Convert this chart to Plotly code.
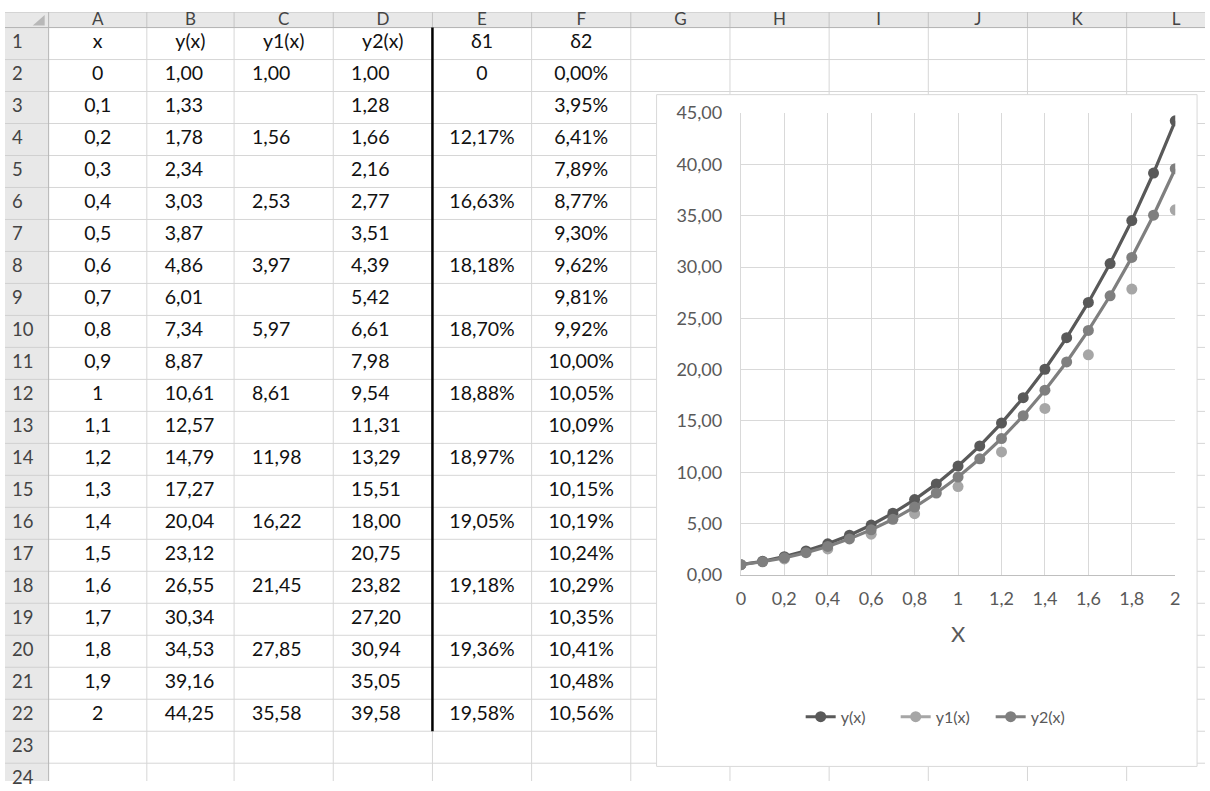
import plotly.graph_objects as go

# ---------------- data ----------------
x_vals = [0, 0.1, 0.2, 0.3, 0.4, 0.5, 0.6, 0.7, 0.8, 0.9, 1, 1.1, 1.2, 1.3, 1.4, 1.5, 1.6, 1.7, 1.8, 1.9, 2]
y_vals = [1.00, 1.33, 1.78, 2.34, 3.03, 3.87, 4.86, 6.01, 7.34, 8.87, 10.61, 12.57, 14.79, 17.27, 20.04,
          23.12, 26.55, 30.34, 34.53, 39.16, 44.25]
y1_vals = [1.00, None, 1.56, None, 2.53, None, 3.97, None, 5.97, None, 8.61, None, 11.98, None, 16.22,
           None, 21.45, None, 27.85, None, 35.58]
y2_vals = [1.00, 1.28, 1.66, 2.16, 2.77, 3.51, 4.39, 5.42, 6.61, 7.98, 9.54, 11.31, 13.29, 15.51, 18.00,
           20.75, 23.82, 27.20, 30.94, 35.05, 39.58]
delta1_text = ["0", "", "12,17%", "", "16,63%", "", "18,18%", "", "18,70%", "", "18,88%", "", "18,97%", "",
               "19,05%", "", "19,18%", "", "19,36%", "", "19,58%"]
delta2_text = ["0,00%", "3,95%", "6,41%", "7,89%", "8,77%", "9,30%", "9,62%", "9,81%", "9,92%", "10,00%",
               "10,05%", "10,09%", "10,12%", "10,15%", "10,19%", "10,24%", "10,29%", "10,35%", "10,41%",
               "10,48%", "10,56%"]
column_letters = ["A", "B", "C", "D", "E", "F", "G", "H", "I", "J", "K", "L"]
header_labels = ["x", "y(x)", "y1(x)", "y2(x)", "δ1", "δ2"]
series_names = ["y(x)", "y1(x)", "y2(x)"]
row_numbers = list(range(1, 25))

# ---------------- sheet geometry / styles ----------------
W, H = 1210, 791
ROWHDR_W = 44
COL_W = [99, 88, 100, 100, 100, 100, 100, 100, 100, 100, 100, 100]
HDR_TOP, HDR_BOT = 0, 16
ROW_H = 32.9
HDR_TEXT_Y = 8.5
ROWNUM_X = 7
LEFT_PAD = 18
FONT = "Lato"
CELL_SIZE = 19.5
HDR_FILL = "#e8e8e8"
GRID = "#d6d6d6"
HDR_LINE = "#c4c4c4"

col_edges = [ROWHDR_W]
for w in COL_W:
    col_edges.append(col_edges[-1] + w)


def col_center(i):
    return (col_edges[i] + col_edges[i + 1]) / 2


def row_center(n):
    return HDR_BOT + (n - 0.5) * ROW_H


def fmt_x(v):
    return f"{v:g}".replace(".", ",")


def fmt_2(v):
    return "" if v is None else f"{v:.2f}".replace(".", ",")


# chart box and plot area (pixels)
BOX = dict(x0=657, x1=1202, y0=85, y1=776)
PLOT_X = (742, 1180)
PLOT_Y = (104, 579)
LEGEND_CX, LEGEND_CY = 946, 725
CH_COLORS = ["#595959", "#a6a6a6", "#7f7f7f"]
AX_TEXT = "#595959"

fig = go.Figure()


def text_trace(xs, ys, texts, pos="middle center", color="#111111", size=CELL_SIZE):
    fig.add_trace(go.Scatter(
        x=xs, y=ys, text=texts, mode="text", textposition=pos,
        textfont=dict(family=FONT, size=size, color=color),
        showlegend=False, hoverinfo="skip", cliponaxis=False, xaxis="x", yaxis="y"))


# column letters
text_trace([col_center(i) for i in range(len(column_letters))], [HDR_TEXT_Y] * len(column_letters),
           column_letters, color="#444444", size=17)
# row numbers
text_trace([ROWNUM_X] * len(row_numbers), [row_center(n) for n in row_numbers],
           [str(n) for n in row_numbers], pos="middle right", color="#444444", size=18.5)
# header row 1
text_trace([col_center(i) for i in range(len(header_labels))], [row_center(1)] * len(header_labels),
           header_labels)
data_rows = [row_center(2 + k) for k in range(len(x_vals))]
# column A (centered)
text_trace([col_center(0)] * len(x_vals), data_rows, [fmt_x(v) for v in x_vals])
# columns B, C, D (left aligned with indent)
for ci, vals in zip([1, 2, 3], [y_vals, y1_vals, y2_vals]):
    text_trace([col_edges[ci] + LEFT_PAD] * len(vals), data_rows, [fmt_2(v) for v in vals],
               pos="middle right")
# columns E, F (centered)
text_trace([col_center(4)] * len(delta1_text), data_rows, delta1_text)
text_trace([col_center(5)] * len(delta2_text), data_rows, delta2_text)

# chart series
for name, vals, col in zip(series_names, [y_vals, y1_vals, y2_vals], CH_COLORS):
    fig.add_trace(go.Scatter(
        x=x_vals, y=vals, name=name, mode="lines+markers", connectgaps=False,
        line=dict(color=col, width=3.2), marker=dict(color=col, size=11),
        xaxis="x2", yaxis="y2", hoverinfo="skip"))

# ---------------- sheet shapes ----------------
shapes = []


def sh(**kw):
    base = dict(xref="x", yref="y", layer="below")
    base.update(kw)
    shapes.append(base)


sh(type="rect", x0=0, x1=W, y0=HDR_TOP, y1=HDR_BOT, fillcolor=HDR_FILL, line=dict(width=0))
sh(type="rect", x0=0, x1=ROWHDR_W, y0=HDR_BOT, y1=H, fillcolor=HDR_FILL, line=dict(width=0))
sh(type="line", x0=0, x1=W, y0=HDR_TOP + 0.5, y1=HDR_TOP + 0.5, line=dict(color="#d4d4d4", width=1))
for n in range(25):
    yy = HDR_BOT + n * ROW_H
    sh(type="line", x0=ROWHDR_W, x1=W, y0=yy, y1=yy, line=dict(color=GRID, width=1))
    sh(type="line", x0=0, x1=ROWHDR_W, y0=yy, y1=yy, line=dict(color="#d0d0d0", width=1))
for xe in col_edges[1:]:
    sh(type="line", x0=xe, x1=xe, y0=HDR_BOT, y1=H, line=dict(color=GRID, width=1))
    sh(type="line", x0=xe, x1=xe, y0=HDR_TOP, y1=HDR_BOT, line=dict(color=HDR_LINE, width=1))
sh(type="line", x0=0, x1=W, y0=HDR_BOT, y1=HDR_BOT, line=dict(color="#b5b5b5", width=1))
sh(type="line", x0=ROWHDR_W, x1=ROWHDR_W, y0=HDR_TOP, y1=H, line=dict(color="#b5b5b5", width=1))
sh(type="path",
   path=f"M {ROWHDR_W-4},{HDR_TOP+3} L {ROWHDR_W-4},{HDR_BOT-2} L {ROWHDR_W-16},{HDR_BOT-2} Z",
   fillcolor="#b8b8b8", line=dict(width=0))
sh(type="line", x0=col_edges[4], x1=col_edges[4], y0=HDR_BOT, y1=HDR_BOT + 22 * ROW_H,
   line=dict(color="#000000", width=2.5))
sh(type="rect", fillcolor="#ffffff", line=dict(color="#d9d9d9", width=1), **BOX)

fig.update_layout(
    width=W, height=H, margin=dict(l=0, r=0, t=0, b=0),
    paper_bgcolor="#ffffff", plot_bgcolor="#ffffff",
    separators=", ", hovermode=False, shapes=shapes,
    xaxis=dict(domain=[0, 1], range=[0, W], visible=False, fixedrange=True),
    yaxis=dict(domain=[0, 1], range=[H, 0], visible=False, fixedrange=True),
    xaxis2=dict(domain=[PLOT_X[0] / W, PLOT_X[1] / W], range=[0, 2], anchor="y2",
                tick0=0, dtick=0.2, showgrid=True, gridcolor="#d9d9d9", gridwidth=1,
                zeroline=False, showline=True, linecolor="#bfbfbf", linewidth=1, ticks="",
                ticklabelstandoff=8,
                tickfont=dict(family=FONT, size=18, color=AX_TEXT),
                title=dict(text="X", font=dict(family=FONT, size=22, color=AX_TEXT), standoff=18)),
    yaxis2=dict(domain=[1 - PLOT_Y[1] / H, 1 - PLOT_Y[0] / H], range=[0, 45], anchor="x2",
                tick0=0, dtick=5, tickformat=".2f", showgrid=True, gridcolor="#d9d9d9", gridwidth=1,
                zeroline=False, showline=True, linecolor="#d9d9d9", linewidth=1, ticks="",
                ticklabelstandoff=14,
                tickfont=dict(family=FONT, size=18, color=AX_TEXT)),
    legend=dict(orientation="h", x=LEGEND_CX / W, xanchor="center",
                y=1 - LEGEND_CY / H, yanchor="middle", bgcolor="rgba(0,0,0,0)",
                entrywidth=50, entrywidthmode="pixels",
                font=dict(family=FONT, size=16, color=AX_TEXT)),
)

fig.write_html("out.html", config={"displayModeBar": False},
               post_script="document.body.style.margin='0';")
